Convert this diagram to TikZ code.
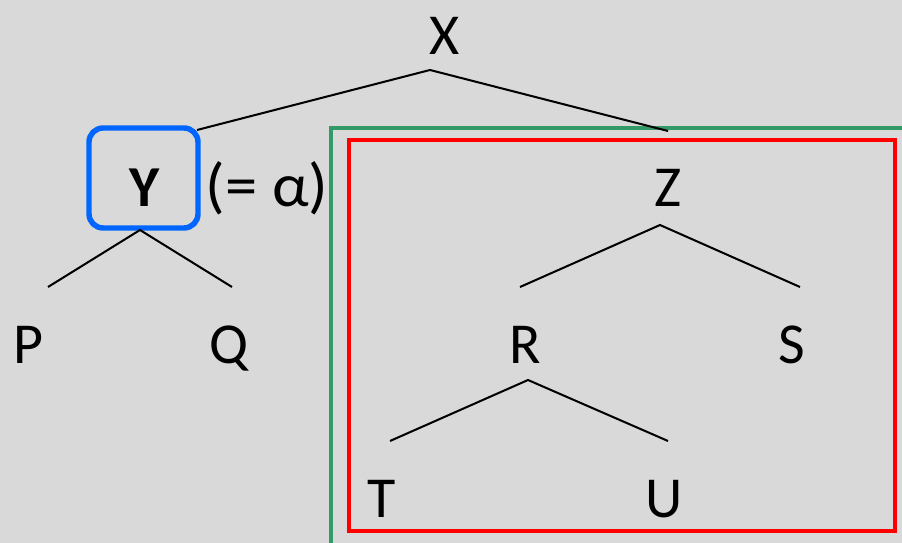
\documentclass[tikz,border=0pt]{standalone}
\usepackage{fontspec}
\setmainfont{Carlito}
\usetikzlibrary{positioning}

\begin{document}
\begin{tikzpicture}[x=0.02cm, y=-0.02cm,
        lbl/.style={anchor=base, inner sep=0pt, font=\fontsize{33}{40}\selectfont},
        edge/.style={line width=1.15pt},
        ybox/.style={draw=focusblue, line width=3.1pt, rounded corners=0.28cm, minimum width=2.18cm, minimum height=2cm, inner sep=0pt}]
        \definecolor{bggray}{HTML}{D9D9D9}
        \definecolor{focusblue}{HTML}{0066FF}
        \definecolor{ctxgreen}{HTML}{339966}
        \definecolor{subred}{HTML}{FF0000}
        % Background
        \fill[bggray] (0,0) rectangle (902,543);
        \useasboundingbox (0,0) rectangle (902,543);

        % Draw frames
        \draw[ctxgreen, line width=2.3pt] (331,128) rectangle (910,560);
        \draw[subred, line width=2.4pt] (349,140) rectangle (895,531);

        % Draw tree nodes
        \node[lbl] (x) at (445,55) {X};
        \node[ybox] (ybx) at (143.5,178) {};
        \node[lbl] (y) at (145,207) {\bfseries Y};
        \node[lbl, font=\fontsize{35}{42}\selectfont, xscale=1.05] (alpha) at (267,207) {(= α)};
        \node[lbl] (p) at (28,364) {P};
        \node[lbl] (q) at (229,364) {Q};
        \node[lbl] (z) at (668,207) {Z};
        \node[lbl] (r) at (525,364) {R};
        \node[lbl] (s) at (792,364) {S};
        \node[lbl] (t) at (382,517) {T};
        \node[lbl] (u) at (664,517) {U};

        % Branch points
        \coordinate (xb) at (430,70);
        \coordinate (xl) at (197,130);
        \coordinate (xr) at (668,131);
        \coordinate (yb) at (140,230);
        \coordinate (yl) at (48,287);
        \coordinate (yr) at (232,287);
        \coordinate (zb) at (660,225);
        \coordinate (zl) at (520,287);
        \coordinate (zr) at (800,287);
        \coordinate (rb) at (528,380);
        \coordinate (rl) at (390,441);
        \coordinate (rr) at (668,441);

        % Draw branches
        \draw[edge] (xl) -- (xb) -- (xr);
        \draw[edge] (yl) -- (yb) -- (yr);
        \draw[edge] (zl) -- (zb) -- (zr);
        \draw[edge] (rl) -- (rb) -- (rr);
    \end{tikzpicture}
\end{document}
